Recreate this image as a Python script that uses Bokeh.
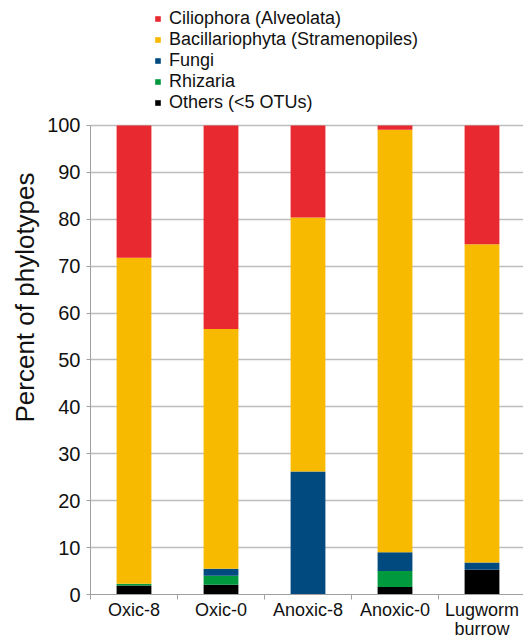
from bokeh.plotting import figure
from bokeh.models import ColumnDataSource, Legend, LegendItem, FixedTicker, Range1d
from bokeh.embed import file_html
from bokeh.resources import INLINE

categories = ["Oxic-8", "Oxic-0", "Anoxic-8", "Anoxic-0", "Lugworm\nburrow"]
others = [1.9, 2.1, 0.0, 1.6, 5.3]
rhizaria = [0.4, 1.9, 0.0, 3.4, 0.0]
fungi = [0.0, 1.5, 26.2, 4.0, 1.5]
bacillariophyta = [69.5, 51.1, 54.2, 90.1, 67.9]
ciliophora = [28.2, 43.4, 19.6, 0.9, 25.3]

series = ["others", "rhizaria", "fungi", "bacillariophyta", "ciliophora"]
labels = {
    "ciliophora": "Ciliophora (Alveolata)",
    "bacillariophyta": "Bacillariophyta (Stramenopiles)",
    "fungi": "Fungi",
    "rhizaria": "Rhizaria",
    "others": "Others (<5 OTUs)",
}
colors = {
    "others": "#000000",
    "rhizaria": "#00993D",
    "fungi": "#004A80",
    "bacillariophyta": "#F7BA00",
    "ciliophora": "#E8292F",
}
y_ticks = list(range(0, 101, 10))

xs = list(range(1, len(categories) + 1))
source = ColumnDataSource(dict(x=xs, others=others, rhizaria=rhizaria, fungi=fungi,
                               bacillariophyta=bacillariophyta, ciliophora=ciliophora))

p = figure(width=523, height=641, output_backend="svg", toolbar_location=None,
           x_range=Range1d(0.5, 5.477), y_range=Range1d(0, 126.65),
           min_border_left=90, min_border_right=0, min_border_bottom=47, min_border_top=0)

renderers = p.vbar_stack(series, x="x", width=0.4, source=source,
                         color=[colors[s] for s in series], line_width=0)
rmap = dict(zip(series, renderers))

order = ["ciliophora", "bacillariophyta", "fungi", "rhizaria", "others"]
legend = Legend(items=[LegendItem(label=labels[s], renderers=[rmap[s]]) for s in order],
                location=(64, 481), orientation="vertical",
                glyph_width=7, glyph_height=7, label_standoff=8, spacing=0,
                label_height=20, padding=0, margin=0, border_line_color=None,
                background_fill_alpha=0,
                label_text_font="Liberation Sans", label_text_font_size="18px",
                label_text_color="#111111")
p.add_layout(legend)

p.outline_line_color = None
p.xgrid.grid_line_color = None
p.ygrid.grid_line_color = "#BDBDBD"
p.ygrid.grid_line_width = 1.5
p.ygrid.ticker = FixedTicker(ticks=y_ticks)

p.yaxis.ticker = FixedTicker(ticks=y_ticks)
p.yaxis.bounds = (0, 100)
p.yaxis.axis_line_color = "#A0A0A0"
p.yaxis.major_tick_line_color = "#A0A0A0"
p.yaxis.major_tick_out = 4
p.yaxis.major_tick_in = 0
p.yaxis.minor_tick_line_color = None
p.yaxis.major_label_text_font = "Liberation Sans"
p.yaxis.major_label_text_font_size = "20px"
p.yaxis.major_label_text_color = "#111111"
p.yaxis.major_label_standoff = 6
p.yaxis.axis_label = "Percent of phylotypes"
p.yaxis.axis_label_text_font = "Liberation Sans"
p.yaxis.axis_label_text_font_size = "26px"
p.yaxis.axis_label_text_font_style = "normal"
p.yaxis.axis_label_text_color = "#111111"
p.yaxis.axis_label_standoff = 4

p.xaxis.ticker = FixedTicker(ticks=xs, minor_ticks=[0.5, 1.5, 2.5, 3.5, 4.5, 5.5])
p.xaxis.major_label_overrides = {x: c for x, c in zip(xs, categories)}
p.xaxis.axis_line_color = "#A0A0A0"
p.xaxis.major_tick_line_color = None
p.xaxis.minor_tick_line_color = "#A0A0A0"
p.xaxis.minor_tick_out = 5
p.xaxis.minor_tick_in = 0
p.xaxis.major_tick_out = 0
p.xaxis.major_label_text_font = "Liberation Sans"
p.xaxis.major_label_text_font_size = "18px"
p.xaxis.major_label_text_line_height = 0.95
p.xaxis.major_label_text_color = "#111111"
p.xaxis.major_label_standoff = 0

open("out.html", "w").write(file_html(p, INLINE))
